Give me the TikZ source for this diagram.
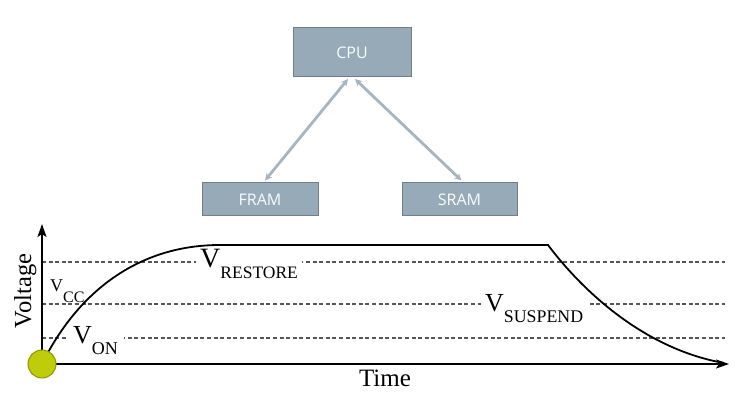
\documentclass[tikz,border=0pt]{standalone}
\usepackage{fontspec}
\setmainfont{Liberation Serif}
\newfontfamily\boxfont{Open Sans}
\usetikzlibrary{arrows.meta,positioning}

\definecolor{boxfill}{RGB}{150,170,184}
\definecolor{boxline}{RGB}{112,126,136}
\definecolor{busgray}{RGB}{165,182,192}
\definecolor{dashgray}{RGB}{85,85,85}
\definecolor{dotgreen}{RGB}{190,204,10}
\definecolor{dotedge}{RGB}{140,152,0}

% V with a lowered subscript: V size, subscript size, subscript text
\newcommand\vlevel[3]{{\fontsize{#1}{#1}\selectfont V}\raisebox{-11pt}{\fontsize{#2}{#2}\selectfont #3}}

\begin{document}
\begin{tikzpicture}[
    x=1pt, y=-1pt,
    membox/.style={draw=boxline, line width=1pt, fill=boxfill, text=white!96!boxfill,
        font=\boxfont\fontsize{16}{16}\selectfont, inner sep=0pt},
    bus/.style={{Stealth[length=7pt,width=7pt]}-{Stealth[length=7pt,width=7pt]}, line width=2.8pt, busgray},
    axis/.style={-{Stealth[length=13pt,width=9pt,inset=3pt]}, line width=1.8pt},
    level/.style={dashed, dash pattern=on 4pt off 2.6pt, line width=1.2pt, dashgray},
    lbl/.style={anchor=base west, inner xsep=4pt, inner ysep=0pt, fill=white},
    dot/.style={circle, draw=dotedge, line width=1pt, fill=dotgreen, minimum size=28pt, inner sep=0pt}
]
\useasboundingbox (0,0) rectangle (749,403);

% memory boxes
\node[membox, minimum width=118pt, minimum height=49pt] (cpu) at (352,52.5) {CPU};
\node[membox, minimum width=116pt, minimum height=33pt, below=105pt of cpu, xshift=-92pt] (fram) {FRAM};
\node[membox, minimum width=115pt, minimum height=33pt, below=105pt of cpu, xshift=107.5pt] (sram) {SRAM};

\draw[bus] ([xshift=-4pt, yshift=-1.5pt]cpu.south) -- ([xshift=5pt, yshift=2pt]fram.north);
\draw[bus] ([xshift=3pt, yshift=-1.5pt]cpu.south) -- ([xshift=2pt, yshift=2pt]sram.north);

% voltage levels
\coordinate (origin) at (42,364);
\coordinate (ytip) at (42,224);
\coordinate (xtip) at (729,364);
\draw[level] (42,262) -- (725,262);
\draw[level] (42,304) -- (725,304);
\draw[level] (42,338) -- (725,338);

\node[lbl] (restore) at (196,268) {\vlevel{28}{17.5}{RESTORE}};
\node[lbl] (suspend) at (481,311) {\vlevel{26}{17.8}{SUSPEND}};
\node[lbl, inner xsep=6pt] (von) at (67,343) {\vlevel{26}{18}{ON}};
\node[lbl, fill=none, inner xsep=0pt] (vcc) at (50,291) {\vlevel{18}{16}{CC}};

% supply curve
\draw[line width=1.8pt] (44,360) .. controls (80,290) and (140,245) .. (220,245)
    -- (548,245) .. controls (588,298) and (650,350) .. (724,363);

% axes
\draw[axis] (origin) -- (ytip);
\draw[axis] (origin) -- (xtip);
\node[dot] (start) at (origin) {};

\node[font=\fontsize{25}{25}\selectfont, anchor=base] (time) at (385,386) {Time};
\node[font=\fontsize{24.5}{25}\selectfont, rotate=90, anchor=base] (volt) at (31,291) {Voltage};
\end{tikzpicture}
\end{document}
